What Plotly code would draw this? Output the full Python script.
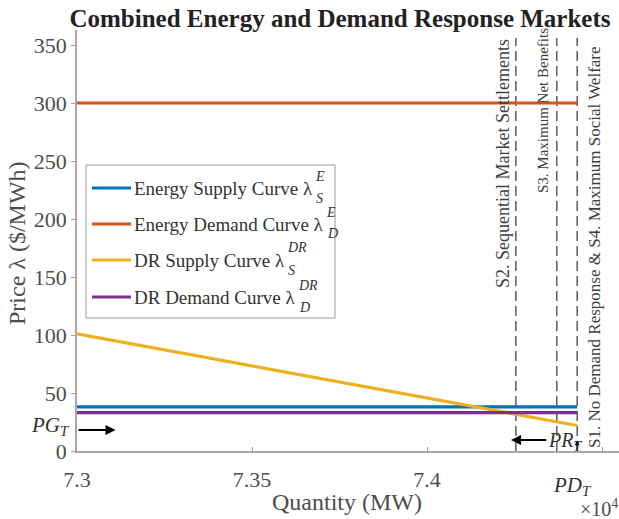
import plotly.graph_objects as go

# ---- data -------------------------------------------------------------
quantity_mw = [73000, 74429]          # MW, start and end of the curves
energy_supply = [38, 38]              # $/MWh
energy_demand = [300, 300]
dr_supply = [101, 22]
dr_demand = [33, 33]

scenario_q = [74254, 74371, 74429]    # S2, S3, S1 & S4 quantities
scenario_top = 356
scenario_labels = [
    "S2. Sequential Market Settlements",
    "S3. Maximum Net Benefits",
    "S1. No Demand Response & S4. Maximum Social Welfare",
]

x_tick_vals = [73000, 73500, 74000, 74500]
x_tick_text = ["7.3", "7.35", "7.4", "7.45"]
y_tick_vals = [0, 50, 100, 150, 200, 250, 300, 350]

series_names = ["Energy Supply Curve λ", "Energy Demand Curve λ",
                "DR Supply Curve λ", "DR Demand Curve λ"]
series_sup = ["E", "E", "DR", "DR"]
series_sub = ["S", "D", "S", "D"]
series_vals = [energy_supply, energy_demand, dr_supply, dr_demand]
colors = ["#0072BD", "#D95319", "#EDB120", "#7E2F8E"]

# ---- geometry helpers (pixel -> paper) ---------------------------------
W, H = 619, 519
L, T, PW, PH = 77, 30, 542, 421


def px(x):
    return (x - L) / PW


def py(y):
    return (T + PH - y) / PH


SERIF = "Liberation Serif"
GRAY = "#4d4d4d"
DARK = "#333333"

fig = go.Figure()

# dashed scenario lines
for q in scenario_q:
    fig.add_trace(go.Scatter(x=[q, q], y=[0, scenario_top], mode="lines",
                             line=dict(color="#333333", width=1.2, dash="10px,5px"),
                             showlegend=False, hoverinfo="skip"))

# market curves
for vals, c in zip(series_vals, colors):
    fig.add_trace(go.Scatter(x=quantity_mw, y=vals, mode="lines",
                             line=dict(color=c, width=3.2),
                             showlegend=False))

annotations = []
shapes = []

# legend box
shapes.append(dict(type="rect", xref="paper", yref="paper",
                   x0=px(86), x1=px(335), y0=py(318), y1=py(165),
                   fillcolor="white", line=dict(color="#9a9a9a", width=1), layer="above"))
row_y = [188, 224, 260, 297]
for i, (name, c) in enumerate(zip(series_names, colors)):
    y = row_y[i]
    shapes.append(dict(type="line", xref="paper", yref="paper",
                       x0=px(92), x1=px(131), y0=py(y), y1=py(y),
                       line=dict(color=c, width=3.2), layer="above"))
    annotations.append(dict(xref="paper", yref="paper", x=px(132), y=py(y),
                            text=name, showarrow=False, xanchor="left", yanchor="middle",
                            font=dict(family=SERIF, size=19, color=DARK)))
# script letters placed just after each lambda
script_x = [313, 324, 285, 296]
for i in range(4):
    y = row_y[i]
    annotations.append(dict(xref="paper", yref="paper", x=px(script_x[i]), y=py(y - 12),
                            text="<i>%s</i>" % series_sup[i], showarrow=False,
                            xanchor="left", yanchor="middle",
                            font=dict(family=SERIF, size=14, color=DARK)))
    annotations.append(dict(xref="paper", yref="paper", x=px(script_x[i] + 1), y=py(y + 10),
                            text="<i>%s</i>" % series_sub[i], showarrow=False,
                            xanchor="left", yanchor="middle",
                            font=dict(family=SERIF, size=14, color=DARK)))

# scenario labels (rotated)
label_pos = [(503, 164, 18), (543, 111, 15), (595, 247, 17)]
for txt, (lx, ly, fs) in zip(scenario_labels, label_pos):
    annotations.append(dict(xref="paper", yref="paper", x=px(lx), y=py(ly),
                            text=txt, textangle=-90, showarrow=False,
                            xanchor="center", yanchor="middle",
                            font=dict(family=SERIF, size=fs, color="#404040")))

# arrows: total generation, total DR, total demand
annotations.append(dict(x=73110, y=18, ax=73000, ay=18, xref="x", yref="y",
                        axref="x", ayref="y", text="", showarrow=True,
                        arrowhead=2, arrowsize=1, arrowwidth=2, arrowcolor="black"))
annotations.append(dict(x=74240, y=9.5, ax=74345, ay=9.5, xref="x", yref="y",
                        axref="x", ayref="y", text="", showarrow=True,
                        arrowhead=2, arrowsize=1, arrowwidth=2, arrowcolor="black"))
annotations.append(dict(x=scenario_q[2], y=9, ax=scenario_q[2], ay=0, xref="x", yref="y",
                        axref="x", ayref="y", text="", showarrow=True,
                        arrowhead=2, arrowsize=0.8, arrowwidth=1.2, arrowcolor="black"))

annotations.append(dict(xref="paper", yref="paper", x=px(72), y=py(426),
                        text="<i>PG</i><sub><i>T</i></sub>", showarrow=False,
                        xanchor="right", yanchor="middle",
                        font=dict(family=SERIF, size=21, color=DARK)))
annotations.append(dict(xref="paper", yref="paper", x=px(546), y=py(441),
                        text="<i>PR</i><sub><i>T</i></sub>", showarrow=False,
                        xanchor="left", yanchor="middle",
                        font=dict(family=SERIF, size=20, color=DARK)))
annotations.append(dict(xref="paper", yref="paper", x=px(551), y=py(486),
                        text="<i>PD</i><sub><i>T</i></sub>", showarrow=False,
                        xanchor="left", yanchor="middle",
                        font=dict(family=SERIF, size=21, color=DARK)))
annotations.append(dict(xref="paper", yref="paper", x=px(578), y=py(508),
                        text="×10<sup>4</sup>", showarrow=False,
                        xanchor="left", yanchor="middle",
                        font=dict(family=SERIF, size=20, color=GRAY)))

# axis titles
annotations.append(dict(xref="paper", yref="paper", x=px(17), y=py(243),
                        text="Price λ ($/MWh)", textangle=-90, showarrow=False,
                        xanchor="center", yanchor="middle",
                        font=dict(family=SERIF, size=24, color=GRAY)))
annotations.append(dict(xref="paper", yref="paper", x=px(347), y=py(502),
                        text="Quantity (MW)", showarrow=False,
                        xanchor="center", yanchor="middle",
                        font=dict(family=SERIF, size=24, color=GRAY)))

fig.update_layout(
    width=W, height=H,
    margin=dict(l=L, r=W - L - PW, t=T, b=H - T - PH),
    font=dict(family=SERIF, color=GRAY),
    paper_bgcolor="white", plot_bgcolor="white",
    title=dict(text="<b>Combined Energy and Demand Response Markets</b>",
               x=340 / W, xanchor="center", y=1 - 18 / H, yanchor="middle",
               font=dict(family=SERIF, size=25, color="#222222")),
    xaxis=dict(range=[73000, 73000 + PW * 50 / 17.5], tickvals=x_tick_vals,
               ticktext=x_tick_text, ticks="inside", ticklen=4, tickcolor="#a0a0a0",
               showline=True, linecolor="#a8a8a8", linewidth=1.5, showgrid=False,
               zeroline=False, ticklabelstandoff=8,
               tickfont=dict(family=SERIF, size=22, color=GRAY)),
    yaxis=dict(range=[0, PH / 1.16], tickvals=y_tick_vals, ticks="outside",
               ticklen=4, tickcolor="#a0a0a0", showline=True, linecolor="#a8a8a8",
               linewidth=1.5, showgrid=False, zeroline=False,
               tickfont=dict(family=SERIF, size=22, color=GRAY)),
    annotations=annotations,
    shapes=shapes,
    showlegend=False,
)

fig.write_html("out.html")
